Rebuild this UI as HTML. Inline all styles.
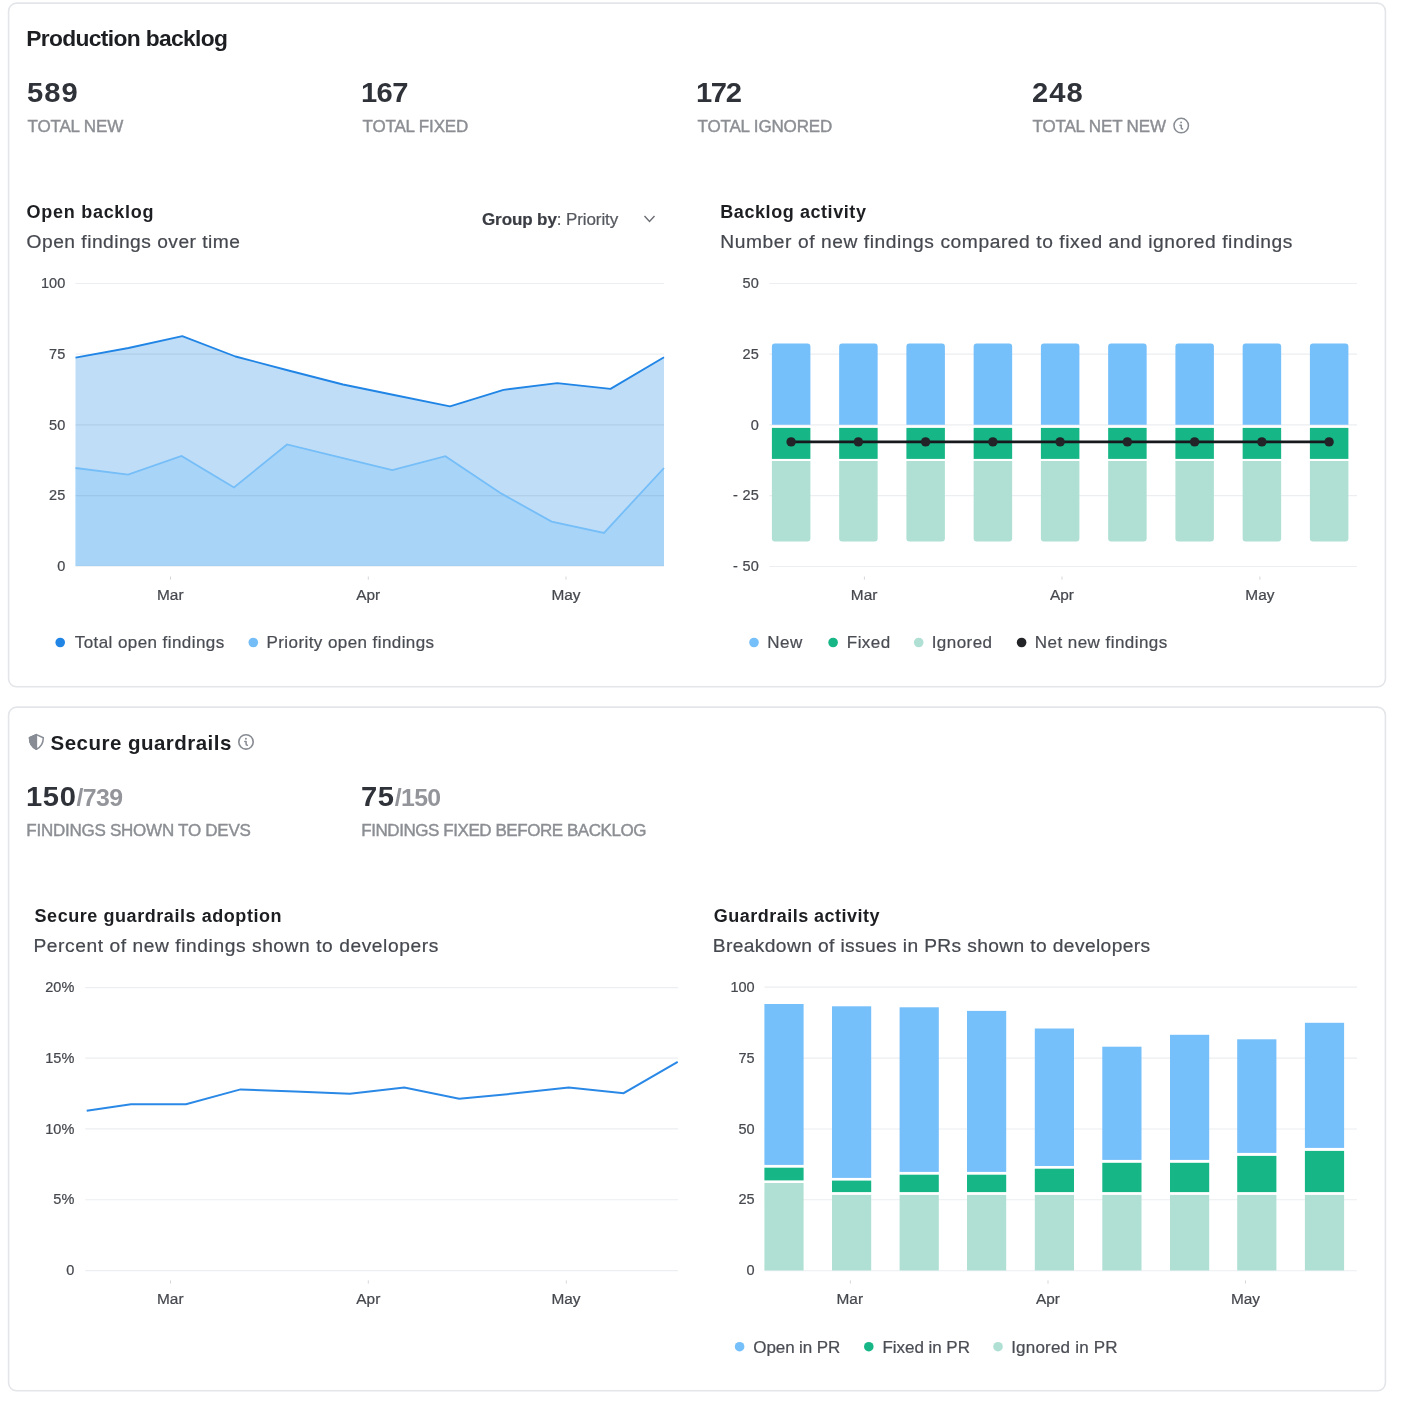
<!DOCTYPE html>
<html><head><meta charset="utf-8"><style>
html,body{margin:0;padding:0;background:#fff;}
body{width:1410px;height:1402px;position:relative;overflow:hidden;font-family:"Liberation Sans",sans-serif;}
.card{position:absolute;left:8.3px;width:1375.7px;height:682.5px;border:1.5px solid #e4e6e9;border-radius:8px;box-sizing:content-box;}
.t{position:absolute;white-space:nowrap;}
#w{position:absolute;left:0;top:0;width:1410px;height:1402px;will-change:transform;}
.lbl{-webkit-text-stroke:0.42px #8b8e93;}
.rg{-webkit-text-stroke:0.22px currentColor;}
svg{position:absolute;left:0;top:0;}
</style></head><body><div id="w">

<svg width="1410" height="1402" viewBox="0 0 1410 1402">
<rect x="8.6" y="3.1" width="1376.8" height="683.7" rx="8" ry="8" fill="none" stroke="#e3e5e8" stroke-width="1.6"/>
<circle cx="1181.2" cy="125.6" r="7.25" fill="none" stroke="#878b92" stroke-width="1.5"/>
<circle cx="1181.10" cy="122.40" r="0.95" fill="#878b92"/>
<path d="M1180.00,125.20 H1181.30 V128.00 Q1181.30,128.90 1182.60,128.90" fill="none" stroke="#878b92" stroke-width="1.5" stroke-linejoin="round" stroke-linecap="round"/>
<polyline points="644.5,216 649.5,221.5 654.5,216" fill="none" stroke="#6b6e74" stroke-width="1.4"/>
<polygon points="75.5,357.7 128.5,348 182.3,336.2 235.5,356.5 288.5,370.5 343,384.5 396.5,395.5 450,406.3 503.5,389.8 557.2,383.2 610.5,388.9 664,357.3 664,566 75.5,566" fill="#7ab8ee" fill-opacity="0.48"/>
<polygon points="75.5,468 128.1,474.6 181.5,456 234,487.4 287,444.5 340,457.3 392.3,470 445.4,456.2 500,492.8 551.6,521.6 604,532.9 664,468 664,566 75.5,566" fill="#8ccaf8" fill-opacity="0.45"/>
<line x1="75.5" y1="283.45" x2="664" y2="283.45" stroke="rgb(50,75,110)" stroke-opacity="0.095" stroke-width="1.15"/>
<line x1="75.5" y1="354.15" x2="664" y2="354.15" stroke="rgb(50,75,110)" stroke-opacity="0.095" stroke-width="1.15"/>
<line x1="75.5" y1="424.85" x2="664" y2="424.85" stroke="rgb(50,75,110)" stroke-opacity="0.095" stroke-width="1.15"/>
<line x1="75.5" y1="495.55" x2="664" y2="495.55" stroke="rgb(50,75,110)" stroke-opacity="0.095" stroke-width="1.15"/>
<line x1="75.5" y1="566.25" x2="664" y2="566.25" stroke="rgb(50,75,110)" stroke-opacity="0.095" stroke-width="1.15"/>
<polyline points="75.5,468 128.1,474.6 181.5,456 234,487.4 287,444.5 340,457.3 392.3,470 445.4,456.2 500,492.8 551.6,521.6 604,532.9 664,468" fill="none" stroke="#76bef8" stroke-width="1.8"/>
<polyline points="75.5,357.7 128.5,348 182.3,336.2 235.5,356.5 288.5,370.5 343,384.5 396.5,395.5 450,406.3 503.5,389.8 557.2,383.2 610.5,388.9 664,357.3" fill="none" stroke="#2185e6" stroke-width="1.85" stroke-linejoin="round"/>
<line x1="170.5" y1="576.5" x2="170.5" y2="579.7" stroke="#d5d7db" stroke-width="1"/>
<line x1="368.3" y1="576.5" x2="368.3" y2="579.7" stroke="#d5d7db" stroke-width="1"/>
<line x1="566" y1="576.5" x2="566" y2="579.7" stroke="#d5d7db" stroke-width="1"/>
<circle cx="60.2" cy="642.5" r="4.8" fill="#2185e6"/>
<circle cx="253.3" cy="642.5" r="4.8" fill="#74bdf7"/>
<line x1="769.3" y1="283.45" x2="1357" y2="283.45" stroke="#eceef1" stroke-width="1.15"/>
<line x1="769.3" y1="354.15" x2="1357" y2="354.15" stroke="#eceef1" stroke-width="1.15"/>
<line x1="769.3" y1="424.85" x2="1357" y2="424.85" stroke="#eceef1" stroke-width="1.15"/>
<line x1="769.3" y1="495.55" x2="1357" y2="495.55" stroke="#eceef1" stroke-width="1.15"/>
<line x1="769.3" y1="566.45" x2="1357" y2="566.45" stroke="#eceef1" stroke-width="1.15"/>
<path d="M771.9,424.8 V346.7 Q771.9,343.6 774.9,343.6 H807.4 Q810.4,343.6 810.4,346.7 V424.8 Z" fill="#75bffa"/>
<rect x="771.9" y="427.9" width="38.5" height="31" fill="#17b686"/>
<path d="M771.9,460.9 V538.6 Q771.9,541.6 774.9,541.6 H807.4 Q810.4,541.6 810.4,538.6 V460.9 Z" fill="#b0e0d4"/>
<path d="M839.15,424.8 V346.7 Q839.15,343.6 842.15,343.6 H874.65 Q877.65,343.6 877.65,346.7 V424.8 Z" fill="#75bffa"/>
<rect x="839.15" y="427.9" width="38.5" height="31" fill="#17b686"/>
<path d="M839.15,460.9 V538.6 Q839.15,541.6 842.15,541.6 H874.65 Q877.65,541.6 877.65,538.6 V460.9 Z" fill="#b0e0d4"/>
<path d="M906.4,424.8 V346.7 Q906.4,343.6 909.4,343.6 H941.9 Q944.9,343.6 944.9,346.7 V424.8 Z" fill="#75bffa"/>
<rect x="906.4" y="427.9" width="38.5" height="31" fill="#17b686"/>
<path d="M906.4,460.9 V538.6 Q906.4,541.6 909.4,541.6 H941.9 Q944.9,541.6 944.9,538.6 V460.9 Z" fill="#b0e0d4"/>
<path d="M973.65,424.8 V346.7 Q973.65,343.6 976.65,343.6 H1009.15 Q1012.15,343.6 1012.15,346.7 V424.8 Z" fill="#75bffa"/>
<rect x="973.65" y="427.9" width="38.5" height="31" fill="#17b686"/>
<path d="M973.65,460.9 V538.6 Q973.65,541.6 976.65,541.6 H1009.15 Q1012.15,541.6 1012.15,538.6 V460.9 Z" fill="#b0e0d4"/>
<path d="M1040.9,424.8 V346.7 Q1040.9,343.6 1043.9,343.6 H1076.4 Q1079.4,343.6 1079.4,346.7 V424.8 Z" fill="#75bffa"/>
<rect x="1040.9" y="427.9" width="38.5" height="31" fill="#17b686"/>
<path d="M1040.9,460.9 V538.6 Q1040.9,541.6 1043.9,541.6 H1076.4 Q1079.4,541.6 1079.4,538.6 V460.9 Z" fill="#b0e0d4"/>
<path d="M1108.15,424.8 V346.7 Q1108.15,343.6 1111.15,343.6 H1143.65 Q1146.65,343.6 1146.65,346.7 V424.8 Z" fill="#75bffa"/>
<rect x="1108.15" y="427.9" width="38.5" height="31" fill="#17b686"/>
<path d="M1108.15,460.9 V538.6 Q1108.15,541.6 1111.15,541.6 H1143.65 Q1146.65,541.6 1146.65,538.6 V460.9 Z" fill="#b0e0d4"/>
<path d="M1175.4,424.8 V346.7 Q1175.4,343.6 1178.4,343.6 H1210.9 Q1213.9,343.6 1213.9,346.7 V424.8 Z" fill="#75bffa"/>
<rect x="1175.4" y="427.9" width="38.5" height="31" fill="#17b686"/>
<path d="M1175.4,460.9 V538.6 Q1175.4,541.6 1178.4,541.6 H1210.9 Q1213.9,541.6 1213.9,538.6 V460.9 Z" fill="#b0e0d4"/>
<path d="M1242.65,424.8 V346.7 Q1242.65,343.6 1245.65,343.6 H1278.15 Q1281.15,343.6 1281.15,346.7 V424.8 Z" fill="#75bffa"/>
<rect x="1242.65" y="427.9" width="38.5" height="31" fill="#17b686"/>
<path d="M1242.65,460.9 V538.6 Q1242.65,541.6 1245.65,541.6 H1278.15 Q1281.15,541.6 1281.15,538.6 V460.9 Z" fill="#b0e0d4"/>
<path d="M1309.9,424.8 V346.7 Q1309.9,343.6 1312.9,343.6 H1345.4 Q1348.4,343.6 1348.4,346.7 V424.8 Z" fill="#75bffa"/>
<rect x="1309.9" y="427.9" width="38.5" height="31" fill="#17b686"/>
<path d="M1309.9,460.9 V538.6 Q1309.9,541.6 1312.9,541.6 H1345.4 Q1348.4,541.6 1348.4,538.6 V460.9 Z" fill="#b0e0d4"/>
<polyline points="791.1,441.9 858.35,441.9 925.6,441.9 992.85,441.9 1060.1,441.9 1127.35,441.9 1194.6,441.9 1261.85,441.9 1329.1,441.9" fill="none" stroke="#17191c" stroke-width="2.6"/>
<circle cx="791.1" cy="441.9" r="4.7" fill="#222428"/>
<circle cx="858.35" cy="441.9" r="4.7" fill="#222428"/>
<circle cx="925.6" cy="441.9" r="4.7" fill="#222428"/>
<circle cx="992.85" cy="441.9" r="4.7" fill="#222428"/>
<circle cx="1060.1" cy="441.9" r="4.7" fill="#222428"/>
<circle cx="1127.35" cy="441.9" r="4.7" fill="#222428"/>
<circle cx="1194.6" cy="441.9" r="4.7" fill="#222428"/>
<circle cx="1261.85" cy="441.9" r="4.7" fill="#222428"/>
<circle cx="1329.1" cy="441.9" r="4.7" fill="#222428"/>
<line x1="864.4" y1="576.5" x2="864.4" y2="579.7" stroke="#d5d7db" stroke-width="1"/>
<line x1="1062" y1="576.5" x2="1062" y2="579.7" stroke="#d5d7db" stroke-width="1"/>
<line x1="1259.9" y1="576.5" x2="1259.9" y2="579.7" stroke="#d5d7db" stroke-width="1"/>
<circle cx="754" cy="642.5" r="4.8" fill="#75bffa"/>
<circle cx="833.1" cy="642.5" r="4.8" fill="#17b686"/>
<circle cx="918.7" cy="642.5" r="4.8" fill="#b0e0d4"/>
<circle cx="1021.6" cy="642.5" r="4.8" fill="#222428"/>
<rect x="8.6" y="707.1" width="1376.8" height="683.7" rx="8" ry="8" fill="none" stroke="#e3e5e8" stroke-width="1.6"/>
<path d="M36.4,734.6 L43.3,737.7 C43.3,742.6 41.2,746.9 36.4,749.2 C31.6,746.9 29.5,742.6 29.5,737.7 Z" fill="none" stroke="#878c95" stroke-width="1.5" stroke-linejoin="round"/>
<path d="M36.4,734.6 L29.5,737.7 C29.5,742.6 31.6,746.9 36.4,749.2 Z" fill="#878c95" stroke="#878c95" stroke-width="1.5" stroke-linejoin="round"/>
<circle cx="246" cy="741.9" r="7.20" fill="none" stroke="#878b92" stroke-width="1.6"/>
<circle cx="245.90" cy="738.70" r="0.95" fill="#878b92"/>
<path d="M244.80,741.50 H246.10 V744.30 Q246.10,745.20 247.40,745.20" fill="none" stroke="#878b92" stroke-width="1.5" stroke-linejoin="round" stroke-linecap="round"/>
<line x1="85.2" y1="987.55" x2="678" y2="987.55" stroke="#eceef1" stroke-width="1.15"/>
<line x1="85.2" y1="1058.15" x2="678" y2="1058.15" stroke="#eceef1" stroke-width="1.15"/>
<line x1="85.2" y1="1128.85" x2="678" y2="1128.85" stroke="#eceef1" stroke-width="1.15"/>
<line x1="85.2" y1="1199.75" x2="678" y2="1199.75" stroke="#eceef1" stroke-width="1.15"/>
<line x1="85.2" y1="1270.65" x2="678" y2="1270.65" stroke="#eceef1" stroke-width="1.15"/>
<polyline points="86.7,1110.7 131,1104.2 186,1104.3 240.5,1089.4 295,1091.6 349.9,1093.8 404.3,1087.5 459.2,1098.7 513.1,1093.6 568.7,1087.4 623.6,1093.2 677.7,1061.9" fill="none" stroke="#2a88e6" stroke-width="2"/>
<line x1="170.5" y1="1280.4" x2="170.5" y2="1283.6" stroke="#d5d7db" stroke-width="1"/>
<line x1="368.3" y1="1280.4" x2="368.3" y2="1283.6" stroke="#d5d7db" stroke-width="1"/>
<line x1="566.3" y1="1280.4" x2="566.3" y2="1283.6" stroke="#d5d7db" stroke-width="1"/>
<line x1="764.6" y1="987.05" x2="1357" y2="987.05" stroke="#eceef1" stroke-width="1.15"/>
<line x1="764.6" y1="1058.15" x2="1357" y2="1058.15" stroke="#eceef1" stroke-width="1.15"/>
<line x1="764.6" y1="1128.95" x2="1357" y2="1128.95" stroke="#eceef1" stroke-width="1.15"/>
<line x1="764.6" y1="1199.75" x2="1357" y2="1199.75" stroke="#eceef1" stroke-width="1.15"/>
<line x1="764.6" y1="1270.75" x2="1357" y2="1270.75" stroke="#eceef1" stroke-width="1.15"/>
<rect x="764.4" y="1004.0" width="39.2" height="160.90" fill="#75bffa"/>
<rect x="764.4" y="1167.7" width="39.2" height="12.70" fill="#17b686"/>
<rect x="764.4" y="1183.0" width="39.2" height="87.50" fill="#b0e0d4"/>
<rect x="832.0" y="1006.3" width="39.2" height="171.60" fill="#75bffa"/>
<rect x="832.0" y="1180.6" width="39.2" height="11.50" fill="#17b686"/>
<rect x="832.0" y="1194.9" width="39.2" height="75.60" fill="#b0e0d4"/>
<rect x="899.6" y="1007.3" width="39.2" height="164.60" fill="#75bffa"/>
<rect x="899.6" y="1174.7" width="39.2" height="17.40" fill="#17b686"/>
<rect x="899.6" y="1194.9" width="39.2" height="75.60" fill="#b0e0d4"/>
<rect x="967.0" y="1010.9" width="39.2" height="161.00" fill="#75bffa"/>
<rect x="967.0" y="1174.7" width="39.2" height="17.40" fill="#17b686"/>
<rect x="967.0" y="1194.9" width="39.2" height="75.60" fill="#b0e0d4"/>
<rect x="1034.8" y="1028.5" width="39.2" height="137.50" fill="#75bffa"/>
<rect x="1034.8" y="1168.7" width="39.2" height="23.40" fill="#17b686"/>
<rect x="1034.8" y="1194.9" width="39.2" height="75.60" fill="#b0e0d4"/>
<rect x="1102.3" y="1046.7" width="39.2" height="113.20" fill="#75bffa"/>
<rect x="1102.3" y="1162.8" width="39.2" height="29.30" fill="#17b686"/>
<rect x="1102.3" y="1194.9" width="39.2" height="75.60" fill="#b0e0d4"/>
<rect x="1170.0" y="1034.8" width="39.2" height="125.10" fill="#75bffa"/>
<rect x="1170.0" y="1162.8" width="39.2" height="29.30" fill="#17b686"/>
<rect x="1170.0" y="1194.9" width="39.2" height="75.60" fill="#b0e0d4"/>
<rect x="1237.2" y="1039.3" width="39.2" height="113.60" fill="#75bffa"/>
<rect x="1237.2" y="1155.9" width="39.2" height="36.20" fill="#17b686"/>
<rect x="1237.2" y="1194.9" width="39.2" height="75.60" fill="#b0e0d4"/>
<rect x="1304.9" y="1022.8" width="39.2" height="125.10" fill="#75bffa"/>
<rect x="1304.9" y="1150.9" width="39.2" height="41.20" fill="#17b686"/>
<rect x="1304.9" y="1194.9" width="39.2" height="75.60" fill="#b0e0d4"/>
<line x1="850.4" y1="1280.4" x2="850.4" y2="1283.6" stroke="#d5d7db" stroke-width="1"/>
<line x1="1048" y1="1280.4" x2="1048" y2="1283.6" stroke="#d5d7db" stroke-width="1"/>
<line x1="1245.5" y1="1280.4" x2="1245.5" y2="1283.6" stroke="#d5d7db" stroke-width="1"/>
<circle cx="739.6" cy="1346.7" r="4.8" fill="#75bffa"/>
<circle cx="868.8" cy="1346.7" r="4.8" fill="#17b686"/>
<circle cx="998" cy="1346.7" r="4.8" fill="#b0e0d4"/>
</svg>
<div class="t " style="left:26.20px;top:27.30px;font-size:22.8px;line-height:22.8px;font-weight:700;color:#1c1e22;letter-spacing:-0.65px;">Production backlog</div>
<div class="t " style="left:27.10px;top:79.94px;font-size:27px;line-height:27px;font-weight:700;color:#2f3238;letter-spacing:1.0px;transform:scaleX(1.08);transform-origin:0 0;">589</div>
<div class="t lbl" style="left:27.50px;top:117.61px;font-size:17px;line-height:17px;font-weight:400;color:#8b8e93;letter-spacing:-0.16px;">TOTAL NEW</div>
<div class="t " style="left:360.90px;top:79.94px;font-size:27px;line-height:27px;font-weight:700;color:#2f3238;letter-spacing:-0.6px;transform:scaleX(1.08);transform-origin:0 0;">167</div>
<div class="t lbl" style="left:362.50px;top:117.61px;font-size:17px;line-height:17px;font-weight:400;color:#8b8e93;letter-spacing:-0.16px;">TOTAL FIXED</div>
<div class="t " style="left:695.90px;top:79.94px;font-size:27px;line-height:27px;font-weight:700;color:#2f3238;letter-spacing:-1.3px;transform:scaleX(1.08);transform-origin:0 0;">172</div>
<div class="t lbl" style="left:697.50px;top:117.61px;font-size:17px;line-height:17px;font-weight:400;color:#8b8e93;letter-spacing:-0.16px;">TOTAL IGNORED</div>
<div class="t " style="left:1032.10px;top:79.94px;font-size:27px;line-height:27px;font-weight:700;color:#2f3238;letter-spacing:1.0px;transform:scaleX(1.08);transform-origin:0 0;">248</div>
<div class="t lbl" style="left:1032.50px;top:117.61px;font-size:17px;line-height:17px;font-weight:400;color:#8b8e93;letter-spacing:-0.16px;">TOTAL NET NEW</div>
<div class="t " style="left:26.60px;top:202.76px;font-size:18px;line-height:18px;font-weight:700;color:#1c1e22;letter-spacing:0.72px;">Open backlog</div>
<div class="t rg" style="left:26.60px;top:231.65px;font-size:19.2px;line-height:19.2px;font-weight:400;color:#45484f;letter-spacing:0.49px;">Open findings over time</div>
<div class="t rg" style="left:482px;top:210.61px;font-size:17px;line-height:17px;letter-spacing:-0.1px;color:#55585e"><b style="color:#3a3d43">Group by</b>: Priority</div>
<div class="t rg" style="left:-134.80px;width:200px;text-align:right;top:276.13px;font-size:14.5px;line-height:14.5px;font-weight:400;color:#45484e;letter-spacing:0px">100</div>
<div class="t rg" style="left:-134.80px;width:200px;text-align:right;top:346.83px;font-size:14.5px;line-height:14.5px;font-weight:400;color:#45484e;letter-spacing:0px">75</div>
<div class="t rg" style="left:-134.80px;width:200px;text-align:right;top:417.53px;font-size:14.5px;line-height:14.5px;font-weight:400;color:#45484e;letter-spacing:0px">50</div>
<div class="t rg" style="left:-134.80px;width:200px;text-align:right;top:488.23px;font-size:14.5px;line-height:14.5px;font-weight:400;color:#45484e;letter-spacing:0px">25</div>
<div class="t rg" style="left:-134.80px;width:200px;text-align:right;top:558.93px;font-size:14.5px;line-height:14.5px;font-weight:400;color:#45484e;letter-spacing:0px">0</div>
<div class="t rg" style="left:70.30px;width:200px;text-align:center;top:586.76px;font-size:15.4px;line-height:15.4px;font-weight:400;color:#45484e;letter-spacing:0px">Mar</div>
<div class="t rg" style="left:268.20px;width:200px;text-align:center;top:586.76px;font-size:15.4px;line-height:15.4px;font-weight:400;color:#45484e;letter-spacing:0px">Apr</div>
<div class="t rg" style="left:466.00px;width:200px;text-align:center;top:586.76px;font-size:15.4px;line-height:15.4px;font-weight:400;color:#45484e;letter-spacing:0px">May</div>
<div class="t rg" style="left:74.80px;top:634.31px;font-size:17px;line-height:17px;font-weight:400;color:#4a4d54;letter-spacing:0.42px;">Total open findings</div>
<div class="t rg" style="left:266.50px;top:634.31px;font-size:17px;line-height:17px;font-weight:400;color:#4a4d54;letter-spacing:0.42px;">Priority open findings</div>
<div class="t " style="left:720.30px;top:202.76px;font-size:18px;line-height:18px;font-weight:700;color:#1c1e22;letter-spacing:0.57px;">Backlog activity</div>
<div class="t rg" style="left:720.30px;top:231.65px;font-size:19.2px;line-height:19.2px;font-weight:400;color:#45484f;letter-spacing:0.575px;">Number of new findings compared to fixed and ignored findings</div>
<div class="t rg" style="left:559.10px;width:200px;text-align:right;top:276.13px;font-size:14.5px;line-height:14.5px;font-weight:400;color:#45484e;letter-spacing:0.25px">50</div>
<div class="t rg" style="left:559.10px;width:200px;text-align:right;top:346.83px;font-size:14.5px;line-height:14.5px;font-weight:400;color:#45484e;letter-spacing:0.25px">25</div>
<div class="t rg" style="left:559.10px;width:200px;text-align:right;top:417.53px;font-size:14.5px;line-height:14.5px;font-weight:400;color:#45484e;letter-spacing:0.25px">0</div>
<div class="t rg" style="left:559.10px;width:200px;text-align:right;top:488.23px;font-size:14.5px;line-height:14.5px;font-weight:400;color:#45484e;letter-spacing:0.25px">-&nbsp;25</div>
<div class="t rg" style="left:559.10px;width:200px;text-align:right;top:559.13px;font-size:14.5px;line-height:14.5px;font-weight:400;color:#45484e;letter-spacing:0.25px">-&nbsp;50</div>
<div class="t rg" style="left:764.10px;width:200px;text-align:center;top:586.76px;font-size:15.4px;line-height:15.4px;font-weight:400;color:#45484e;letter-spacing:0px">Mar</div>
<div class="t rg" style="left:962.00px;width:200px;text-align:center;top:586.76px;font-size:15.4px;line-height:15.4px;font-weight:400;color:#45484e;letter-spacing:0px">Apr</div>
<div class="t rg" style="left:1159.90px;width:200px;text-align:center;top:586.76px;font-size:15.4px;line-height:15.4px;font-weight:400;color:#45484e;letter-spacing:0px">May</div>
<div class="t rg" style="left:767.30px;top:634.31px;font-size:17px;line-height:17px;font-weight:400;color:#4a4d54;letter-spacing:0.45px;">New</div>
<div class="t rg" style="left:846.80px;top:634.31px;font-size:17px;line-height:17px;font-weight:400;color:#4a4d54;letter-spacing:0.45px;">Fixed</div>
<div class="t rg" style="left:931.70px;top:634.31px;font-size:17px;line-height:17px;font-weight:400;color:#4a4d54;letter-spacing:0.45px;">Ignored</div>
<div class="t rg" style="left:1034.80px;top:634.31px;font-size:17px;line-height:17px;font-weight:400;color:#4a4d54;letter-spacing:0.45px;">Net new findings</div>
<div class="t " style="left:50.60px;top:732.85px;font-size:20.5px;line-height:20.5px;font-weight:700;color:#1c1e22;letter-spacing:0.47px;">Secure guardrails</div>
<div class="t" style="left:26.30px;top:784.24px;font-size:27px;line-height:27px;font-weight:700;color:#2f3238;letter-spacing:0.6px;transform:scaleX(1.08);transform-origin:0 0">150<span style="font-size:23px;color:#93959a;letter-spacing:-0.6px;margin-left:0px">/739</span></div>
<div class="t lbl" style="left:26.30px;top:821.91px;font-size:17px;line-height:17px;font-weight:400;color:#8b8e93;letter-spacing:-0.25px;">FINDINGS SHOWN TO DEVS</div>
<div class="t" style="left:361.30px;top:784.24px;font-size:27px;line-height:27px;font-weight:700;color:#2f3238;letter-spacing:0.6px;transform:scaleX(1.08);transform-origin:0 0">75<span style="font-size:23px;color:#93959a;letter-spacing:-0.6px;margin-left:0px">/150</span></div>
<div class="t lbl" style="left:361.30px;top:821.91px;font-size:17px;line-height:17px;font-weight:400;color:#8b8e93;letter-spacing:-0.44px;">FINDINGS FIXED BEFORE BACKLOG</div>
<div class="t " style="left:34.50px;top:907.16px;font-size:18px;line-height:18px;font-weight:700;color:#1c1e22;letter-spacing:0.56px;">Secure guardrails adoption</div>
<div class="t rg" style="left:33.50px;top:935.95px;font-size:19.2px;line-height:19.2px;font-weight:400;color:#45484f;letter-spacing:0.57px;">Percent of new findings shown to developers</div>
<div class="t rg" style="left:-125.70px;width:200px;text-align:right;top:980.23px;font-size:14.5px;line-height:14.5px;font-weight:400;color:#45484e;letter-spacing:0px">20%</div>
<div class="t rg" style="left:-125.70px;width:200px;text-align:right;top:1050.83px;font-size:14.5px;line-height:14.5px;font-weight:400;color:#45484e;letter-spacing:0px">15%</div>
<div class="t rg" style="left:-125.70px;width:200px;text-align:right;top:1121.53px;font-size:14.5px;line-height:14.5px;font-weight:400;color:#45484e;letter-spacing:0px">10%</div>
<div class="t rg" style="left:-125.70px;width:200px;text-align:right;top:1192.43px;font-size:14.5px;line-height:14.5px;font-weight:400;color:#45484e;letter-spacing:0px">5%</div>
<div class="t rg" style="left:-125.70px;width:200px;text-align:right;top:1263.33px;font-size:14.5px;line-height:14.5px;font-weight:400;color:#45484e;letter-spacing:0px">0</div>
<div class="t rg" style="left:70.30px;width:200px;text-align:center;top:1290.96px;font-size:15.4px;line-height:15.4px;font-weight:400;color:#45484e;letter-spacing:0px">Mar</div>
<div class="t rg" style="left:268.30px;width:200px;text-align:center;top:1290.96px;font-size:15.4px;line-height:15.4px;font-weight:400;color:#45484e;letter-spacing:0px">Apr</div>
<div class="t rg" style="left:466.00px;width:200px;text-align:center;top:1290.96px;font-size:15.4px;line-height:15.4px;font-weight:400;color:#45484e;letter-spacing:0px">May</div>
<div class="t " style="left:713.80px;top:907.16px;font-size:18px;line-height:18px;font-weight:700;color:#1c1e22;letter-spacing:0.48px;">Guardrails activity</div>
<div class="t rg" style="left:712.80px;top:935.95px;font-size:19.2px;line-height:19.2px;font-weight:400;color:#45484f;letter-spacing:0.38px;">Breakdown of issues in PRs shown to developers</div>
<div class="t rg" style="left:554.60px;width:200px;text-align:right;top:979.73px;font-size:14.5px;line-height:14.5px;font-weight:400;color:#45484e;letter-spacing:0px">100</div>
<div class="t rg" style="left:554.60px;width:200px;text-align:right;top:1050.83px;font-size:14.5px;line-height:14.5px;font-weight:400;color:#45484e;letter-spacing:0px">75</div>
<div class="t rg" style="left:554.60px;width:200px;text-align:right;top:1121.63px;font-size:14.5px;line-height:14.5px;font-weight:400;color:#45484e;letter-spacing:0px">50</div>
<div class="t rg" style="left:554.60px;width:200px;text-align:right;top:1192.43px;font-size:14.5px;line-height:14.5px;font-weight:400;color:#45484e;letter-spacing:0px">25</div>
<div class="t rg" style="left:554.60px;width:200px;text-align:right;top:1263.43px;font-size:14.5px;line-height:14.5px;font-weight:400;color:#45484e;letter-spacing:0px">0</div>
<div class="t rg" style="left:749.80px;width:200px;text-align:center;top:1290.96px;font-size:15.4px;line-height:15.4px;font-weight:400;color:#45484e;letter-spacing:0px">Mar</div>
<div class="t rg" style="left:948.00px;width:200px;text-align:center;top:1290.96px;font-size:15.4px;line-height:15.4px;font-weight:400;color:#45484e;letter-spacing:0px">Apr</div>
<div class="t rg" style="left:1145.50px;width:200px;text-align:center;top:1290.96px;font-size:15.4px;line-height:15.4px;font-weight:400;color:#45484e;letter-spacing:0px">May</div>
<div class="t rg" style="left:753.30px;top:1338.81px;font-size:17px;line-height:17px;font-weight:400;color:#4a4d54;letter-spacing:-0.1px;">Open in PR</div>
<div class="t rg" style="left:882.40px;top:1338.81px;font-size:17px;line-height:17px;font-weight:400;color:#4a4d54;letter-spacing:-0.03px;">Fixed in PR</div>
<div class="t rg" style="left:1011.20px;top:1338.81px;font-size:17px;line-height:17px;font-weight:400;color:#4a4d54;letter-spacing:0.2px;">Ignored in PR</div>
</div></body></html>
